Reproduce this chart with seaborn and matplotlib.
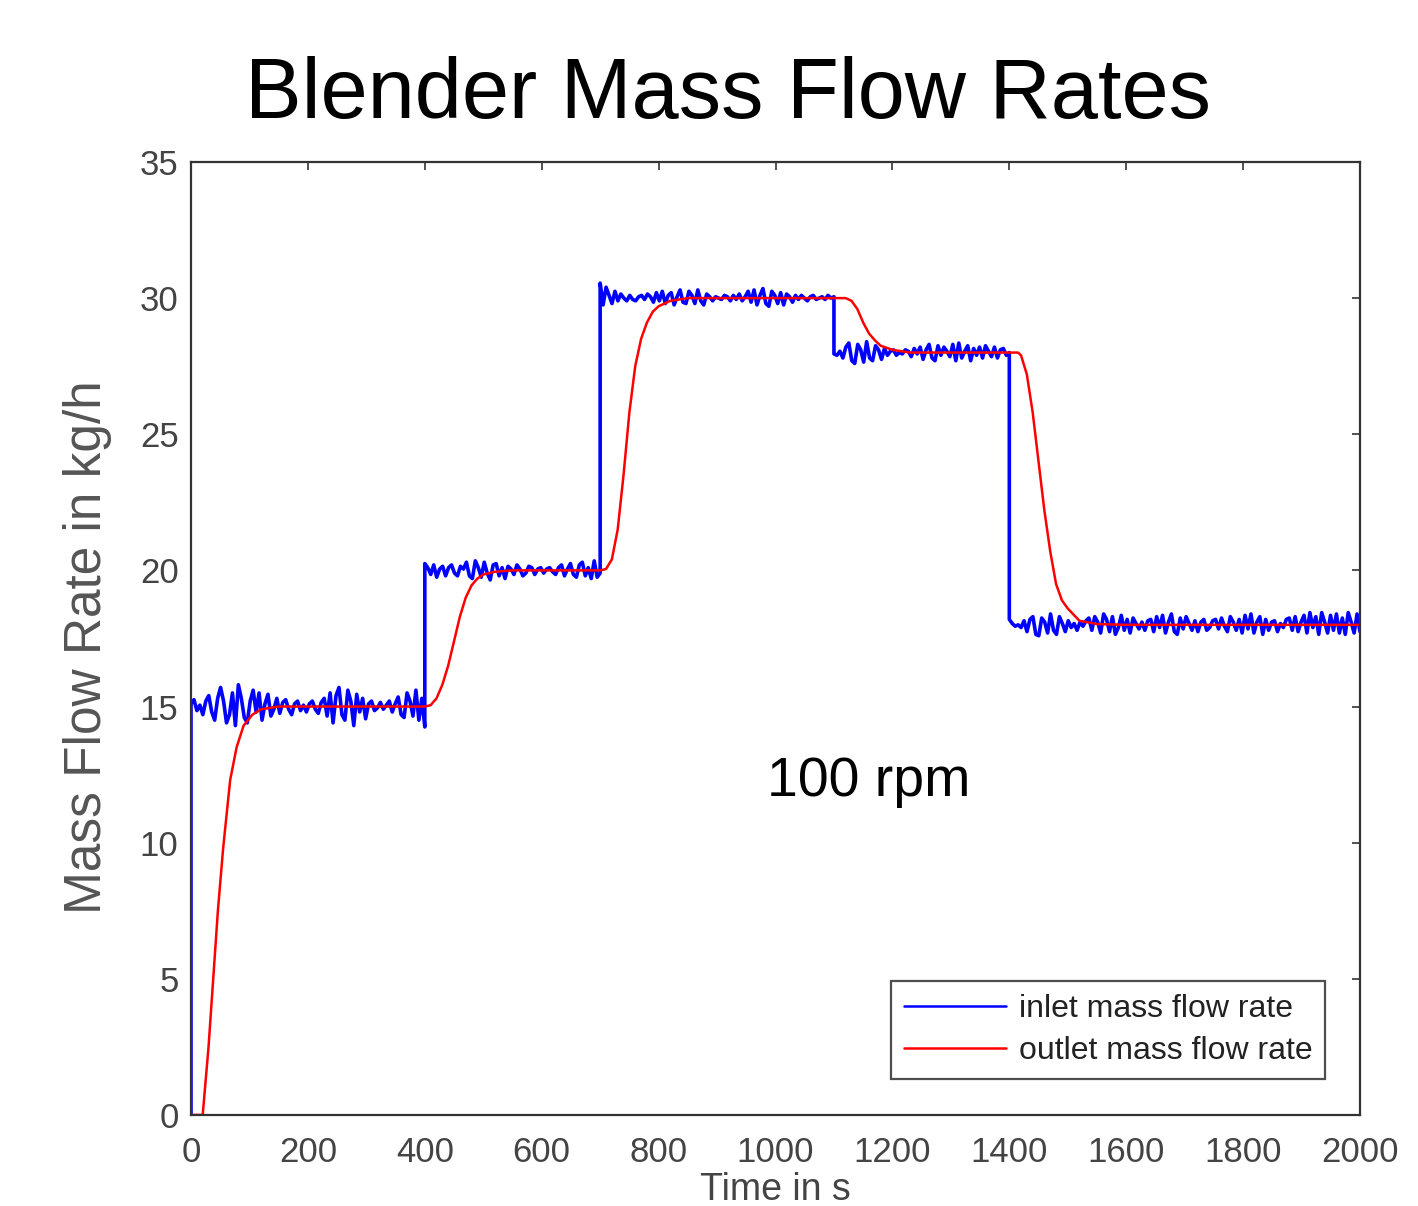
import numpy as np
import matplotlib
matplotlib.use('Agg')
import matplotlib.pyplot as plt
import seaborn as sns

# step changes of the inlet set point (s) and the level held in each step (kg/h)
step_times = [0, 400, 700, 1100, 1400, 2000]
step_levels = [15, 20, 30, 28, 18]

# inlet noise, about one value every 5 s, per step
noise_1 = [0.1, 0.25, -0.15, 0.05, -0.3, 0.2, 0.4, -0.2,
           -0.5, 0.3, 0.7, 0.2, -0.6, -0.3, 0.5, -0.7,
           0.8, 0.3, -0.4, -0.6, 0.2, 0.6, -0.2, 0.5,
           -0.5, 0.1, 0.45, -0.35, -0.1, 0.3, -0.25, 0.15,
           0.25, -0.1, -0.3, 0.1, 0.2, -0.15, 0.05, -0.2,
           0.1, 0.2, -0.1, -0.25, 0.15, 0.3, -0.35, 0.5,
           -0.6, 0.4, 0.7, -0.3, -0.5, 0.6, 0.2, -0.7,
           0.45, -0.2, 0.3, -0.45, 0.1, 0.2, -0.15, -0.05,
           0.15, -0.1, 0.05, 0.2, -0.2, 0.1, 0.35, -0.3,
           -0.4, 0.5, 0.2, -0.35, 0.6, -0.5, 0.3, -0.75]
noise_2 = [0.25, 0.1, -0.15, 0.2, -0.25, 0.05, 0.15, -0.2, 0.1, 0.2,
           -0.1, -0.2, 0.15, 0.05, 0.3, -0.2, -0.3, 0.35, 0.1, -0.25,
           0.3, -0.1, -0.35, 0.2, 0.25, -0.2, 0.1, -0.3, 0.15, 0.05,
           -0.15, 0.2, 0.05, -0.2, -0.1, 0.15, 0.1, -0.15, 0.05, 0.1,
           -0.1, 0.05, 0.1, -0.05, -0.15, 0.1, 0.2, -0.2, 0.05, 0.25,
           -0.15, -0.25, 0.2, 0.3, -0.2, 0.1, -0.3, 0.35, -0.25, -0.1]
noise_3 = [0.55, -0.25, 0.4, 0.1, -0.2, 0.25, -0.1, 0.15, 0.0, -0.1,
           0.1, -0.05, -0.1, 0.05, 0.1, -0.05, 0.15, 0.05, -0.15, 0.2,
           -0.1, 0.25, -0.2, 0.1, 0.2, -0.25, 0.05, 0.3, -0.15, -0.2,
           0.25, 0.1, -0.2, 0.3, -0.1, -0.25, 0.15, 0.05, -0.1, 0.05,
           0.0, -0.05, 0.1, 0.05, -0.1, 0.1, -0.05, 0.15, -0.1, 0.05,
           0.25, -0.15, 0.3, -0.25, 0.1, 0.35, -0.2, -0.3, 0.25, 0.1,
           -0.2, 0.2, -0.25, 0.15, 0.05, -0.15, 0.1, -0.05, 0.1, 0.0,
           -0.1, 0.05, 0.1, -0.05, 0.0, 0.05, -0.05, 0.1, 0.0, 0.05]
noise_4 = [-0.05, -0.1, 0.05, -0.2, 0.2, 0.35, -0.3, -0.4, 0.3, 0.1,
           -0.35, 0.4, -0.2, -0.3, 0.25, 0.1, -0.25, 0.15, -0.1, 0.05,
           0.1, -0.1, 0.0, -0.05, 0.1, 0.05, -0.15, 0.15, -0.05, 0.2,
           -0.25, 0.1, 0.3, -0.2, -0.3, 0.25, -0.1, 0.2, 0.05, -0.15,
           0.3, -0.3, 0.35, -0.2, 0.05, 0.25, -0.3, 0.15, -0.1, 0.2,
           -0.2, 0.25, 0.05, -0.15, 0.2, -0.2, 0.1, 0.15, -0.1, 0.0]
noise_5 = [0.2, 0.05, -0.05, 0.0, -0.1, 0.15, -0.25, 0.2, 0.3, -0.35,
           -0.4, 0.25, 0.1, -0.3, 0.4, -0.2, -0.35, 0.3, 0.05, -0.25,
           0.15, -0.1, 0.05, -0.2, 0.1, -0.05, 0.15, 0.25, -0.2, 0.3,
           0.1, -0.3, 0.4, 0.2, -0.25, 0.3, -0.35, -0.1, 0.35, -0.2,
           0.2, -0.3, 0.25, 0.05, -0.15, 0.1, -0.2, 0.15, 0.2, -0.25,
           0.3, -0.1, 0.35, -0.3, 0.1, 0.4, -0.25, -0.35, 0.25, -0.15,
           0.3, 0.05, -0.2, 0.15, -0.25, 0.1, 0.2, -0.2, -0.1, 0.15,
           0.2, -0.15, 0.25, -0.05, -0.25, 0.3, 0.1, -0.2, 0.2, -0.3,
           0.35, -0.15, 0.4, -0.3, 0.1, 0.3, -0.35, 0.2, -0.2, 0.1,
           0.15, -0.25, 0.05, -0.1, 0.2, 0.25, -0.2, 0.3, -0.25, 0.1,
           0.35, -0.3, 0.45, -0.1, 0.3, -0.35, 0.45, 0.1, -0.3, 0.35,
           -0.2, 0.4, -0.3, 0.25, -0.35, 0.45, 0.1, -0.3, 0.4, -0.25]

# outlet response
outlet_t = [0, 20, 30, 38, 46, 55, 67, 78, 90, 105, 120, 150,
            400, 410, 420, 430, 440, 450, 460, 470, 480, 490, 500, 520, 550,
            700, 710, 720, 730, 740, 750, 760, 770, 780, 790, 800, 820, 850,
            1100, 1120, 1130, 1140, 1150, 1160, 1170, 1180, 1200, 1230,
            1400, 1415, 1420, 1430, 1440, 1450, 1460, 1470, 1480, 1490, 1500, 1520, 1550, 1600,
            2000]
outlet_v = [0, 0, 2.5, 5.0, 7.5, 9.8, 12.3, 13.5, 14.3, 14.7, 14.9, 15.0,
            15.0, 15.05, 15.3, 15.8, 16.5, 17.4, 18.3, 19.0, 19.45, 19.7, 19.85, 19.95, 20.0,
            20.0, 20.05, 20.4, 21.5, 23.5, 25.8, 27.5, 28.5, 29.1, 29.5, 29.7, 29.9, 30.0,
            30.0, 30.0, 29.9, 29.6, 29.1, 28.7, 28.45, 28.25, 28.1, 28.0,
            28.0, 28.0, 27.9, 27.2, 25.8, 24.0, 22.2, 20.7, 19.5, 18.9, 18.6, 18.15, 18.03, 18.0,
            18.0]

# build the inlet series: each step sampled from its start to its end,
# so the jumps between steps are vertical
noises = [noise_1, noise_2, noise_3, noise_4, noise_5]
inlet_t = [0.0]
inlet_v = [0.0]
for k, nz in enumerate(noises):
    inlet_t += list(np.linspace(step_times[k], step_times[k + 1], len(nz)))
    inlet_v += list(step_levels[k] + np.array(nz))

sns.set_style('white')
plt.rcParams['font.family'] = ['Liberation Sans', 'DejaVu Sans']

fig = plt.figure(figsize=(14.18, 12.06), dpi=100)
ax = fig.add_axes([0.1347, 0.0755, 0.8244, 0.7902])

sns.lineplot(x=inlet_t, y=inlet_v, ax=ax, color='#0000ff', linewidth=2.6,
             estimator=None, sort=False, label='inlet mass flow rate')
sns.lineplot(x=outlet_t, y=outlet_v, ax=ax, color='#ff0000', linewidth=1.8,
             estimator=None, sort=False, label='outlet mass flow rate')

ax.set_xlim(0, 2000)
ax.set_ylim(0, 35)
ax.set_xticks(range(0, 2001, 200))
ax.set_yticks(range(0, 36, 5))
ax.tick_params(direction='in', length=6, width=1.2, colors='#333333',
               labelcolor='#444444', labelsize=25, top=True, right=True)
ax.tick_params(axis='x', pad=15)
ax.tick_params(axis='y', pad=9)
for s in ax.spines.values():
    s.set_color('#333333')
    s.set_linewidth(1.6)

ax.set_xlabel('Time in s', fontsize=27, color='#444444', labelpad=2)
ax.set_ylabel('')
fig.text(0.062, 0.4635, 'Mass Flow Rate in kg/h', rotation=90, fontsize=37,
         color='#555555', ha='center', va='center')
fig.text(728 / 1418, 0.9022, 'Blender Mass Flow Rates', fontsize=61,
         ha='center', va='baseline', color='black')
ax.text(1160, 11.7, '100 rpm', fontsize=40, ha='center', va='baseline',
        color='black')

leg = ax.legend(loc='lower right', bbox_to_anchor=(0.970, 0.0378),
                borderaxespad=0, fontsize=23, handlelength=3.2,
                handletextpad=0.4, labelspacing=0.38, fancybox=False,
                frameon=True, borderpad=0.4)
leg.get_frame().set_edgecolor('#222222')
leg.get_frame().set_linewidth(1.6)
for h in leg.get_lines():
    h.set_linewidth(1.8)
for t in leg.get_texts():
    t.set_color('#222222')

fig.savefig('out.png', dpi=100)
